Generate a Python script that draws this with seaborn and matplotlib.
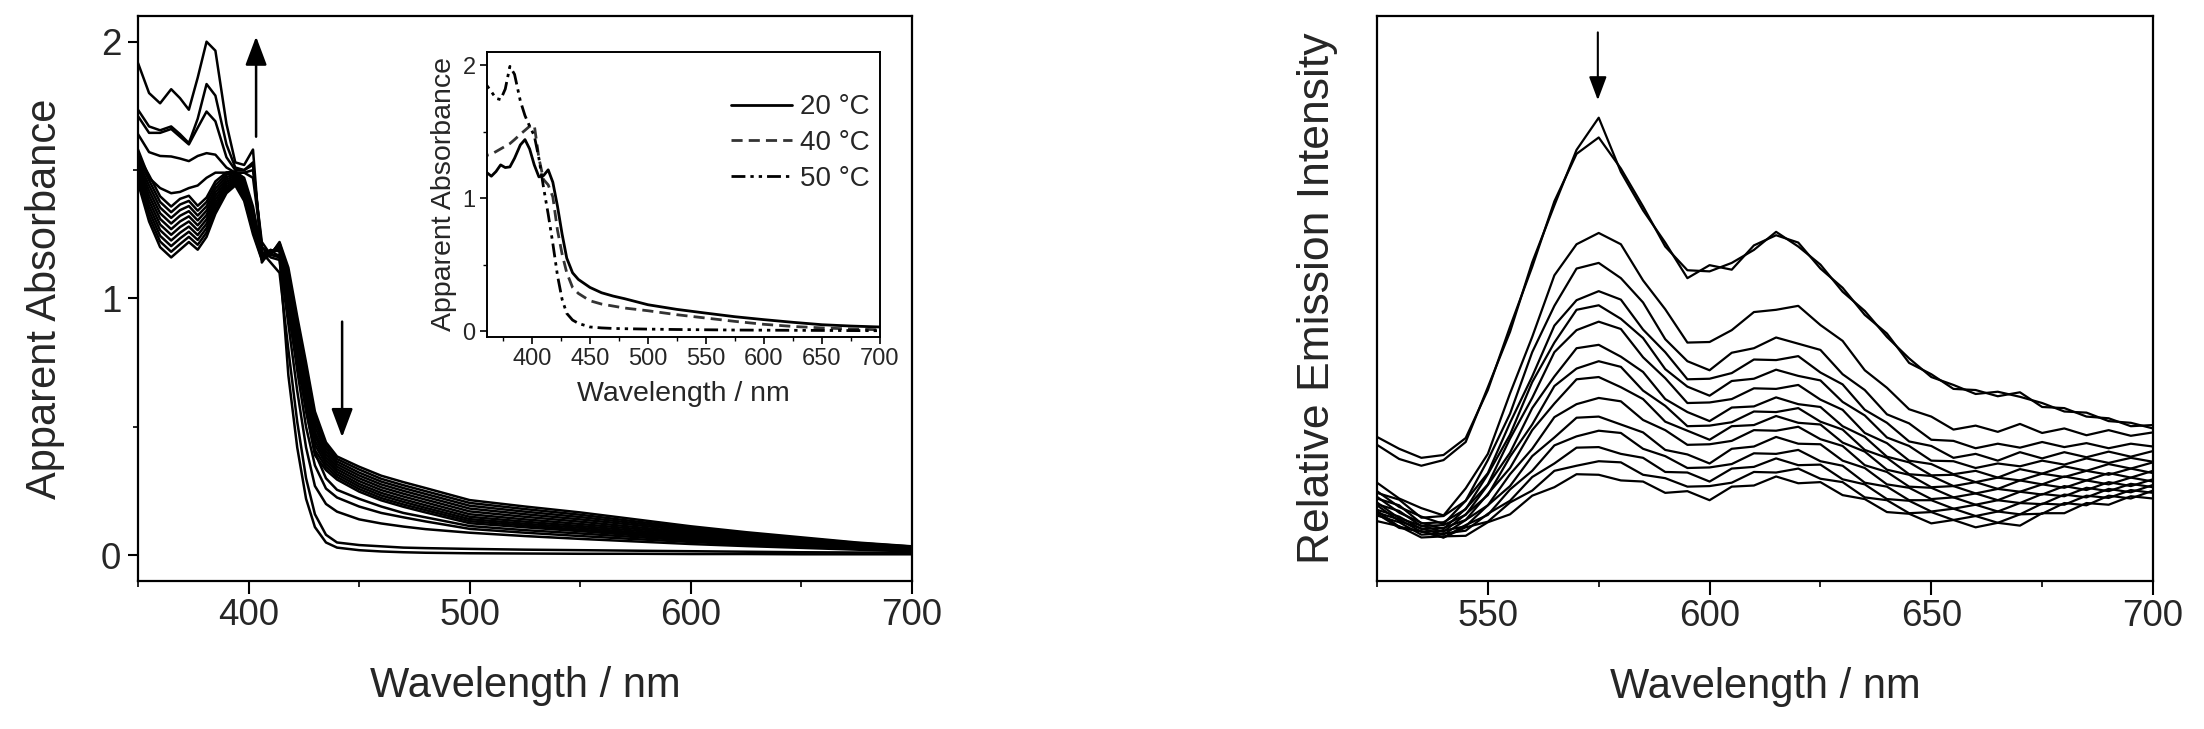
import matplotlib
matplotlib.use("Agg")
import matplotlib.pyplot as plt
import seaborn as sns
from matplotlib.ticker import FixedLocator

sns.set_theme(style="ticks")
plt.rcParams["font.family"] = ["Liberation Sans", "DejaVu Sans"]
plt.rcParams["axes.facecolor"] = "white"

# ---------------- data: absorption (left panel) ----------------
abs_wavelength = [350, 355, 360, 365, 369, 373, 377, 381, 385, 390, 394, 398, 402, 406, 410, 414,
                  418, 422, 426, 430, 435, 440, 450, 460, 470, 480, 500, 525, 550, 575, 600, 625,
                  650, 675, 700]
abs_spectra = [
    [1.45, 1.30, 1.20, 1.16, 1.19, 1.22, 1.19, 1.24, 1.33, 1.41, 1.44, 1.38, 1.25, 1.15, 1.17, 1.22, 1.12, 0.93, 0.75, 0.56, 0.44, 0.385, 0.345, 0.31, 0.285, 0.262, 0.215, 0.19, 0.167, 0.14, 0.113, 0.09, 0.07, 0.05, 0.035],
    [1.462, 1.32, 1.222, 1.182, 1.212, 1.24, 1.209, 1.257, 1.344, 1.419, 1.446, 1.39, 1.262, 1.153, 1.172, 1.216, 1.10, 0.91, 0.73, 0.54, 0.428, 0.375, 0.334, 0.298, 0.273, 0.250, 0.204, 0.180, 0.158, 0.132, 0.107, 0.085, 0.066, 0.048, 0.034],
    [1.474, 1.34, 1.244, 1.204, 1.234, 1.26, 1.228, 1.274, 1.358, 1.428, 1.452, 1.40, 1.274, 1.156, 1.174, 1.212, 1.08, 0.89, 0.71, 0.52, 0.416, 0.365, 0.322, 0.287, 0.262, 0.239, 0.193, 0.170, 0.149, 0.125, 0.101, 0.080, 0.062, 0.045, 0.032],
    [1.486, 1.36, 1.266, 1.226, 1.256, 1.28, 1.247, 1.291, 1.372, 1.437, 1.458, 1.41, 1.286, 1.159, 1.176, 1.208, 1.06, 0.87, 0.69, 0.50, 0.404, 0.355, 0.311, 0.276, 0.251, 0.228, 0.182, 0.160, 0.140, 0.118, 0.095, 0.075, 0.058, 0.043, 0.031],
    [1.498, 1.38, 1.288, 1.248, 1.278, 1.30, 1.266, 1.308, 1.386, 1.446, 1.464, 1.42, 1.298, 1.162, 1.178, 1.204, 1.04, 0.85, 0.67, 0.48, 0.392, 0.345, 0.300, 0.265, 0.240, 0.217, 0.171, 0.150, 0.131, 0.110, 0.089, 0.070, 0.054, 0.040, 0.029],
    [1.51, 1.40, 1.31, 1.27, 1.30, 1.32, 1.285, 1.325, 1.40, 1.455, 1.47, 1.43, 1.31, 1.165, 1.18, 1.20, 1.02, 0.83, 0.65, 0.465, 0.38, 0.335, 0.289, 0.254, 0.229, 0.206, 0.160, 0.140, 0.122, 0.103, 0.083, 0.066, 0.051, 0.038, 0.028],
    [1.522, 1.42, 1.332, 1.292, 1.322, 1.34, 1.304, 1.342, 1.414, 1.464, 1.476, 1.44, 1.322, 1.168, 1.182, 1.196, 1.00, 0.81, 0.63, 0.447, 0.368, 0.325, 0.278, 0.243, 0.218, 0.195, 0.150, 0.131, 0.114, 0.096, 0.077, 0.061, 0.047, 0.035, 0.026],
    [1.534, 1.44, 1.354, 1.314, 1.344, 1.36, 1.323, 1.359, 1.428, 1.473, 1.482, 1.45, 1.334, 1.171, 1.184, 1.192, 0.98, 0.79, 0.61, 0.43, 0.356, 0.315, 0.268, 0.233, 0.208, 0.185, 0.141, 0.123, 0.107, 0.089, 0.072, 0.057, 0.044, 0.033, 0.025],
    [1.546, 1.46, 1.376, 1.336, 1.366, 1.38, 1.342, 1.376, 1.442, 1.482, 1.488, 1.46, 1.346, 1.174, 1.186, 1.188, 0.96, 0.77, 0.59, 0.41, 0.344, 0.305, 0.258, 0.223, 0.198, 0.176, 0.133, 0.116, 0.100, 0.083, 0.067, 0.053, 0.041, 0.031, 0.024],
    [1.558, 1.48, 1.398, 1.358, 1.388, 1.40, 1.361, 1.393, 1.456, 1.491, 1.494, 1.47, 1.358, 1.177, 1.188, 1.184, 0.94, 0.75, 0.57, 0.39, 0.332, 0.295, 0.248, 0.214, 0.189, 0.167, 0.125, 0.109, 0.094, 0.078, 0.063, 0.050, 0.039, 0.029, 0.022],
    [1.58, 1.47, 1.43, 1.41, 1.415, 1.43, 1.44, 1.47, 1.49, 1.49, 1.49, 1.49, 1.47, 1.20, 1.17, 1.17, 1.00, 0.78, 0.56, 0.40, 0.30, 0.255, 0.22, 0.19, 0.165, 0.148, 0.114, 0.098, 0.085, 0.071, 0.058, 0.047, 0.037, 0.028, 0.02],
    [1.64, 1.57, 1.555, 1.553, 1.545, 1.535, 1.555, 1.566, 1.56, 1.51, 1.49, 1.49, 1.50, 1.22, 1.17, 1.16, 0.96, 0.72, 0.50, 0.35, 0.26, 0.225, 0.19, 0.165, 0.148, 0.132, 0.103, 0.088, 0.075, 0.063, 0.052, 0.042, 0.034, 0.026, 0.018],
    [1.71, 1.645, 1.645, 1.66, 1.63, 1.60, 1.665, 1.728, 1.69, 1.55, 1.50, 1.50, 1.52, 1.20, 1.16, 1.15, 0.90, 0.64, 0.42, 0.27, 0.20, 0.17, 0.14, 0.124, 0.112, 0.102, 0.088, 0.075, 0.064, 0.054, 0.044, 0.036, 0.029, 0.022, 0.015],
    [1.735, 1.67, 1.655, 1.67, 1.64, 1.605, 1.70, 1.835, 1.79, 1.60, 1.51, 1.50, 1.53, 1.18, 1.14, 1.10, 0.80, 0.52, 0.30, 0.16, 0.08, 0.05, 0.04, 0.035, 0.03, 0.028, 0.025, 0.022, 0.02, 0.018, 0.016, 0.014, 0.012, 0.011, 0.01],
    [1.917, 1.80, 1.76, 1.815, 1.78, 1.735, 1.86, 2.00, 1.965, 1.68, 1.53, 1.52, 1.58, 1.14, 1.19, 1.16, 0.70, 0.42, 0.22, 0.11, 0.05, 0.03, 0.02, 0.015, 0.012, 0.01, 0.008, 0.007, 0.006, 0.006, 0.005, 0.005, 0.004, 0.004, 0.004],
]

# ---------------- data: inset ----------------
inset_wavelength = [355, 360, 365, 369, 373, 377, 381, 385, 390, 394, 398, 402, 406, 410, 414, 418,
                    422, 426, 430, 435, 440, 450, 460, 470, 480, 500, 525, 550, 575, 600, 625, 650,
                    675, 700]
inset_20C = [1.30, 1.20, 1.165, 1.20, 1.25, 1.23, 1.235, 1.30, 1.40, 1.44, 1.37, 1.25, 1.16, 1.17, 1.213, 1.12,
             0.94, 0.73, 0.55, 0.44, 0.39, 0.33, 0.29, 0.265, 0.245, 0.20, 0.165, 0.137, 0.11, 0.088, 0.068, 0.05,
             0.04, 0.033]
inset_40C = [1.36, 1.32, 1.33, 1.35, 1.37, 1.39, 1.41, 1.44, 1.48, 1.51, 1.54, 1.55, 1.30, 1.14, 1.10, 1.01,
             0.76, 0.58, 0.44, 0.33, 0.285, 0.23, 0.205, 0.19, 0.175, 0.155, 0.125, 0.10, 0.075, 0.053, 0.037, 0.026,
             0.018, 0.012]
inset_50C = [1.90, 1.86, 1.80, 1.75, 1.74, 1.82, 1.99, 1.93, 1.73, 1.62, 1.54, 1.47, 1.30, 1.08, 0.88, 0.66,
             0.42, 0.24, 0.135, 0.085, 0.06, 0.033, 0.026, 0.022, 0.02, 0.017, 0.014, 0.012, 0.01, 0.009, 0.008, 0.007,
             0.006, 0.005]
inset_labels = ["20 °C", "40 °C", "50 °C"]

# ---------------- data: emission (right panel) ----------------
em_wavelength = [525, 530, 535, 540, 545, 550, 555, 560, 565, 570, 575, 580, 585, 590, 595, 600, 605, 610,
                 615, 620, 625, 630, 635, 640, 645, 650, 655, 660, 665, 670, 675, 680, 685, 690, 695, 700]
em_spectra = [
    [24.1, 21.6, 20.4, 21.4, 24.6, 34.3, 44.1, 56.4, 66.5, 76.3, 82.0, 72.4, 65.6, 59.9, 53.6, 55.9, 55.1, 59.4, 61.2, 59.9, 55.3, 51.9, 47.1, 43.8, 38.6, 36.6, 34.0, 33.8, 32.7, 33.4, 30.8, 30.6, 29.1, 28.8, 27.4, 27.6],
    [25.5, 23.4, 21.8, 22.3, 25.3, 33.8, 45.0, 55.6, 67.2, 75.6, 78.5, 73.0, 66.3, 59.2, 55.0, 54.8, 56.3, 58.6, 61.8, 59.2, 56.0, 51.2, 47.8, 43.2, 39.4, 36.1, 34.7, 33.1, 33.5, 32.6, 31.5, 30.0, 29.8, 28.3, 28.0, 27.0],
    [17.4, 14.6, 12.9, 11.6, 16.4, 22.5, 33.2, 43.2, 54.1, 59.6, 61.6, 59.6, 53.2, 48.1, 42.2, 42.3, 44.4, 47.6, 48.0, 48.7, 45.3, 42.5, 37.3, 34.2, 30.4, 29.1, 26.8, 27.5, 26.4, 27.8, 26.2, 27.0, 25.8, 26.7, 25.7, 26.3],
    [15.6, 14.4, 11.2, 11.5, 14.2, 21.4, 29.6, 40.5, 48.7, 55.3, 56.3, 53.6, 49.3, 42.8, 38.9, 37.3, 40.4, 41.2, 43.1, 42.0, 40.9, 36.6, 33.8, 29.5, 27.9, 25.0, 24.8, 23.5, 24.3, 23.6, 24.6, 23.7, 24.4, 23.5, 24.3, 23.8],
    [15.9, 13.1, 11.4, 10.1, 14.2, 19.1, 28.0, 36.2, 45.2, 49.7, 51.3, 49.8, 44.5, 40.5, 35.7, 35.8, 36.8, 39.2, 39.1, 39.8, 36.9, 34.8, 30.3, 28.0, 24.7, 23.9, 21.8, 22.5, 21.3, 22.8, 21.7, 22.8, 21.9, 22.9, 22.0, 23.0],
    [14.6, 13.4, 10.2, 10.4, 12.7, 18.9, 25.9, 35.2, 42.2, 48.0, 48.8, 46.4, 43.0, 37.5, 34.4, 32.8, 35.4, 35.8, 37.4, 36.3, 35.5, 31.7, 29.3, 25.4, 23.9, 21.3, 21.2, 20.0, 20.8, 20.3, 21.3, 20.6, 21.7, 20.9, 21.8, 21.1],
    [14.9, 12.1, 10.3, 9.2, 12.8, 17.1, 25.2, 32.4, 40.5, 44.4, 45.9, 44.6, 39.6, 35.9, 31.5, 31.6, 32.2, 34.1, 34.0, 34.7, 32.1, 30.3, 26.2, 24.4, 21.3, 20.7, 18.9, 19.5, 18.3, 19.8, 19.0, 20.3, 19.5, 20.7, 19.9, 21.0],
    [13.6, 12.4, 9.7, 9.9, 11.7, 17.0, 22.7, 30.6, 36.2, 41.2, 41.8, 39.7, 37.0, 32.2, 29.9, 28.3, 30.7, 30.9, 32.5, 31.3, 30.8, 27.4, 25.5, 22.0, 21.0, 18.7, 18.8, 17.5, 18.3, 17.8, 19.0, 18.4, 19.5, 18.8, 19.9, 19.1],
    [13.9, 11.1, 9.8, 8.7, 11.8, 15.2, 22.0, 27.7, 34.5, 37.6, 38.9, 37.9, 33.7, 31.0, 27.4, 27.5, 28.1, 30.0, 29.9, 30.6, 28.2, 26.8, 23.2, 21.8, 18.9, 18.6, 16.8, 17.5, 16.3, 17.8, 17.1, 18.5, 17.8, 19.1, 18.3, 19.5],
    [12.6, 11.4, 9.2, 9.4, 10.8, 15.4, 20.0, 26.7, 31.4, 35.7, 36.1, 34.3, 32.2, 28.2, 26.6, 25.0, 27.4, 27.6, 29.2, 28.0, 27.7, 24.5, 22.9, 19.7, 18.8, 16.6, 16.8, 15.5, 16.3, 15.8, 17.1, 16.5, 17.8, 17.1, 18.3, 17.6],
    [13.4, 10.6, 9.3, 8.2, 10.8, 13.4, 18.9, 23.4, 29.0, 31.3, 32.4, 31.8, 28.5, 26.7, 24.1, 24.2, 24.8, 26.7, 26.6, 27.3, 25.1, 23.9, 20.5, 19.3, 16.7, 16.5, 14.8, 15.5, 14.3, 15.8, 15.3, 16.8, 16.1, 17.5, 16.8, 18.0],
    [12.1, 10.9, 8.7, 8.9, 9.7, 13.4, 16.8, 22.1, 25.4, 28.9, 29.1, 27.7, 26.3, 23.2, 22.4, 20.8, 23.4, 23.8, 25.5, 24.3, 24.2, 21.3, 20.0, 17.1, 16.5, 14.5, 14.8, 13.5, 14.3, 13.8, 15.4, 15.0, 16.5, 15.9, 17.2, 16.6],
    [12.4, 9.6, 8.8, 7.7, 9.9, 11.7, 16.2, 19.5, 24.0, 25.6, 26.6, 26.2, 23.4, 22.1, 20.0, 20.1, 20.7, 22.6, 22.5, 23.2, 21.2, 20.4, 17.4, 16.7, 14.3, 14.3, 12.8, 13.5, 12.3, 13.8, 13.6, 15.3, 14.8, 16.3, 15.7, 17.0],
    [11.6, 10.4, 8.2, 8.4, 8.9, 11.9, 14.2, 18.4, 20.8, 23.6, 23.7, 22.5, 21.8, 19.3, 19.2, 17.6, 19.9, 20.2, 21.7, 20.5, 20.6, 18.0, 17.1, 14.5, 14.2, 12.3, 12.8, 11.5, 12.3, 11.8, 13.7, 13.5, 15.1, 14.7, 16.1, 15.6],
    [11.9, 9.4, 8.8, 7.7, 9.5, 10.5, 13.9, 16.0, 19.5, 20.4, 21.2, 21.0, 18.8, 18.2, 16.7, 16.8, 17.4, 19.3, 19.2, 19.9, 18.1, 17.5, 14.8, 14.3, 12.0, 12.2, 10.8, 11.5, 10.3, 11.8, 11.9, 13.8, 13.4, 15.1, 14.6, 16.0],
    [10.6, 9.7, 7.7, 7.9, 8.0, 10.4, 11.8, 15.1, 16.6, 18.9, 18.8, 17.8, 17.6, 15.6, 15.9, 14.3, 16.7, 16.9, 18.5, 17.3, 17.5, 15.2, 14.5, 12.2, 11.9, 10.2, 10.8, 9.5, 10.3, 9.8, 12.0, 12.0, 13.8, 13.5, 15.0, 14.6],
]

# arrows (data coordinates): x, y_tail, y_head
arrow_up = (403.4, 1.63, 2.02)
arrow_down = (442.3, 0.91, 0.46)
arrow_em = (574.8, 97.1, 85.1)

# ---------------- figure ----------------
W, H = 2204, 729
fig = plt.figure(figsize=(W / 100, H / 100), dpi=100)
fig.patch.set_facecolor("white")

ax1 = fig.add_axes([138 / W, 1 - 581 / H, (912 - 138) / W, (581 - 16) / H])
ax2 = fig.add_axes([1377 / W, 1 - 581 / H, (2153 - 1377) / W, (581 - 16) / H])
axin = fig.add_axes([486.7 / W, 1 - 336.7 / H, (880 - 486.7) / W, (336.7 - 51.7) / H])

TICK_FS = 26.5
LABEL_FS = 30


def style_axes(ax, lw=1.6):
    for sp in ax.spines.values():
        sp.set_visible(True)
        sp.set_color("black")
        sp.set_linewidth(lw)
    ax.grid(False)
    ax.set_facecolor("white")


# ---- left panel
for spec in abs_spectra:
    sns.lineplot(x=abs_wavelength, y=spec, ax=ax1, color="black", linewidth=1.8,
                 estimator=None, sort=False, legend=False)
ax1.set_xlim(350, 700)
ax1.set_ylim(-0.10, 2.10)
style_axes(ax1)
ax1.xaxis.set_major_locator(FixedLocator([400, 500, 600, 700]))
ax1.xaxis.set_minor_locator(FixedLocator([350, 450, 550, 650]))
ax1.yaxis.set_major_locator(FixedLocator([0, 1, 2]))
ax1.yaxis.set_minor_locator(FixedLocator([0.5, 1.5]))
ax1.set_yticklabels(["0", "1", "2"])
ax1.set_xticklabels(["400", "500", "600", "700"])
ax1.tick_params(axis="x", which="major", direction="out", length=9, width=1.5, labelsize=TICK_FS, pad=3, color="black")
ax1.tick_params(axis="x", which="minor", direction="out", length=4, width=1.2, color="black")
ax1.tick_params(axis="y", which="major", direction="out", length=7, width=1.5, labelsize=TICK_FS, pad=5, color="black")
ax1.tick_params(axis="y", which="minor", direction="out", length=3.5, width=1.2, color="black")
ax1.set_xlabel("Wavelength / nm", fontsize=LABEL_FS, labelpad=24)
ax1.set_ylabel("Apparent Absorbance", fontsize=LABEL_FS, labelpad=26)

for (x, yt, yh) in (arrow_up, arrow_down):
    ax1.annotate("", xy=(x, yh), xytext=(x, yt),
                 arrowprops=dict(arrowstyle="-|>,head_length=0.8,head_width=0.3", lw=1.8, color="black",
                                 shrinkA=0, shrinkB=0, mutation_scale=22))

# ---- inset
inset_styles = [dict(color="black", linestyle="-"),
                dict(color="#333333", linestyle=(0, (4, 2.2))),
                dict(color="black", linestyle=(0, (5, 1.8, 1.2, 1.8, 1.2, 1.8)))]
for vals, lab, st in zip([inset_20C, inset_40C, inset_50C], inset_labels, inset_styles):
    sns.lineplot(x=inset_wavelength, y=vals, ax=axin, linewidth=2.0, label=lab,
                 estimator=None, sort=False, **st)
axin.set_xlim(361, 700)
axin.set_ylim(-0.04, 2.10)
style_axes(axin, lw=1.4)
axin.xaxis.set_major_locator(FixedLocator([400, 450, 500, 550, 600, 650, 700]))
axin.xaxis.set_minor_locator(FixedLocator([375, 425, 475, 525, 575, 625, 675]))
axin.yaxis.set_major_locator(FixedLocator([0, 1, 2]))
axin.yaxis.set_minor_locator(FixedLocator([0.5, 1.5]))
axin.set_xticklabels(["400", "450", "500", "550", "600", "650", "700"])
axin.set_yticklabels(["0", "1", "2"])
axin.tick_params(axis="both", which="major", direction="out", length=5, width=1.2, labelsize=17, pad=3, color="black")
axin.tick_params(axis="both", which="minor", direction="out", length=3, width=1.0, color="black")
axin.set_xlabel("Wavelength / nm", fontsize=20.5, labelpad=8)
axin.set_ylabel("Apparent Absorbance", fontsize=20.5, labelpad=4)
leg = axin.legend(loc="upper right", bbox_to_anchor=(0.975, 0.85), frameon=False, fontsize=20,
                  handlelength=2.2, handletextpad=0.3, labelspacing=0.35, borderaxespad=0, borderpad=0)

# ---- right panel
for spec in em_spectra:
    sns.lineplot(x=em_wavelength, y=spec, ax=ax2, color="black", linewidth=1.6,
                 estimator=None, sort=False, legend=False)
ax2.set_xlim(525, 700)
ax2.set_ylim(0, 100)
style_axes(ax2)
ax2.xaxis.set_major_locator(FixedLocator([550, 600, 650, 700]))
ax2.xaxis.set_minor_locator(FixedLocator([525, 575, 625, 675]))
ax2.set_xticklabels(["550", "600", "650", "700"])
ax2.set_yticks([])
ax2.tick_params(axis="x", which="major", direction="out", length=10, width=1.5, labelsize=TICK_FS, pad=3, color="black")
ax2.tick_params(axis="x", which="minor", direction="out", length=4, width=1.2, color="black")
ax2.set_xlabel("Wavelength / nm", fontsize=LABEL_FS, labelpad=24)
ax2.set_ylabel("Relative Emission Intensity", fontsize=32, labelpad=28)

x, yt, yh = arrow_em
ax2.annotate("", xy=(x, yh), xytext=(x, yt),
             arrowprops=dict(arrowstyle="-|>,head_length=0.8,head_width=0.3", lw=1.5, color="black",
                             shrinkA=0, shrinkB=0, mutation_scale=18))

fig.savefig("out.png", dpi=100, facecolor="white")
